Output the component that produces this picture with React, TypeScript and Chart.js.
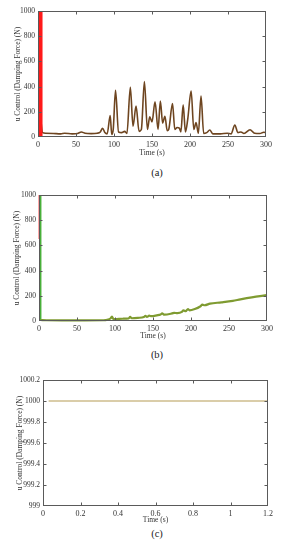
import React, { useEffect, useRef } from 'react';
import { Chart, registerables } from 'chart.js';
Chart.register(...registerables);

const FONT = '"Liberation Serif", "DejaVu Serif", serif';

// (a) damping force, brown
const aTime = [3, 3, 4, 6, 10, 20, 30, 35, 45, 52, 57, 62, 70, 78, 82, 85, 88, 91, 95, 97, 99, 102, 106, 110, 114, 117, 121.5, 125, 129, 133, 136, 140, 144, 147, 150, 154, 158, 161, 164, 167, 170, 172, 177, 180, 183, 186, 188, 191, 194, 197, 201.5, 205, 208, 211, 214.5, 218, 222, 226, 230, 240, 249, 254, 259, 263, 267, 271, 279, 285, 292, 297, 300];
const aForce = [1000, 200, 120, 35, 30, 28, 25, 30, 25, 28, 40, 30, 27, 30, 40, 70, 35, 25, 170, 20, 60, 370, 40, 35, 45, 28, 395, 85, 245, 45, 60, 440, 60, 160, 120, 280, 60, 285, 110, 165, 50, 60, 265, 60, 75, 70, 40, 255, 40, 140, 365, 60, 115, 30, 325, 28, 35, 55, 25, 25, 30, 25, 95, 35, 40, 28, 58, 30, 28, 38, 35];
const aRedTime = [3, 3];
const aRedForce = [0, 1000];

// (b) damping force, olive
const bTime = [2, 10, 30, 60, 85, 90, 94, 96, 98, 100, 110, 118, 120, 122, 130, 138, 140, 142, 145, 148, 155, 160, 162, 165, 175, 178, 182, 188, 190, 193, 196, 198, 205, 212, 215, 218, 225, 240, 255, 265, 280, 300];
const bForce = [8, 6, 5, 5, 6, 10, 20, 35, 15, 15, 18, 20, 32, 22, 25, 32, 40, 33, 42, 38, 45, 52, 60, 50, 60, 65, 62, 72, 85, 78, 95, 85, 95, 115, 130, 125, 138, 148, 160, 172, 188, 205];
const bGreenTime = [1.8, 1.8, 2];
const bGreenForce = [1000, 0, 8];
const bRedTime = [0.8, 0.8];
const bRedForce = [1000, 650];

// (c) damping force, constant
const cTime = [0.03, 1.2];
const cForce = [1000, 1000];

const abXTicks = [0, 50, 100, 150, 200, 250, 300];
const abYTicks = [0, 200, 400, 600, 800, 1000];
const cXTicks = [0, 0.2, 0.4, 0.6, 0.8, 1, 1.2];
const cYTicks = [999, 999.2, 999.4, 999.6, 999.8, 1000, 1000.2];

const Y_TITLE = 'u Control (Damping Force) (N)';
const X_TITLE = 'Time (s)';

const pts = (xs: number[], ys: number[]) => xs.map((x, i) => ({ x, y: ys[i] }));

const framePlugin = {
  id: 'frameTicks',
  afterDatasetsDraw(chart: any) {
    const { ctx, chartArea } = chart;
    const { left, right, top, bottom } = chartArea;
    const xs = chart.scales.x;
    const ys = chart.scales.y;
    ctx.save();
    ctx.strokeStyle = '#5a5a5a';
    ctx.lineWidth = 1;
    const L = Math.round(left) + 0.5, R = Math.round(right) - 0.5;
    const T = Math.round(top) + 0.5, B = Math.round(bottom) - 0.5;
    ctx.strokeRect(L, T, R - L, B - T);
    ctx.beginPath();
    xs.ticks.forEach((t: any, i: number) => {
      if (i === 0 || i === xs.ticks.length - 1) return;
      const p = Math.round(xs.getPixelForValue(t.value)) + 0.5;
      ctx.moveTo(p, B); ctx.lineTo(p, B - 3);
      ctx.moveTo(p, T); ctx.lineTo(p, T + 3);
    });
    ys.ticks.forEach((t: any, i: number) => {
      if (i === 0 || i === ys.ticks.length - 1) return;
      const p = Math.round(ys.getPixelForValue(t.value)) + 0.5;
      ctx.moveTo(L, p); ctx.lineTo(L + 3, p);
      ctx.moveTo(R, p); ctx.lineTo(R - 3, p);
    });
    ctx.stroke();
    ctx.restore();
  },
};

type PanelProps = {
  top: number; height: number;
  plotLeft: number; plotRight: number; plotTop: number; plotBottom: number;
  xTitleY: number; yTitleX: number;
  xMin: number; xMax: number; yMin: number; yMax: number;
  xTicks: number[]; yTicks: number[];
  datasets: any[];
};

function Panel(p: PanelProps) {
  const ref = useRef<HTMLCanvasElement>(null);
  useEffect(() => {
    const titleSize = 7.5;
    const lh = titleSize * 1.2;
    const xAxisH = p.top + p.height - p.plotBottom;
    const chart = new Chart(ref.current as HTMLCanvasElement, {
      type: 'line',
      data: { datasets: p.datasets },
      plugins: [framePlugin],
      options: {
        animation: false,
        responsive: false,
        devicePixelRatio: 1,
        layout: { padding: { left: 0, right: 286 - p.plotRight, top: p.plotTop - p.top, bottom: 0 } },
        plugins: { legend: { display: false }, tooltip: { enabled: false } },
        elements: { point: { radius: 0 } },
        scales: {
          x: {
            type: 'linear', min: p.xMin, max: p.xMax,
            grid: { display: false, drawTicks: false },
            border: { display: false },
            afterBuildTicks: (s: any) => { s.ticks = p.xTicks.map((v) => ({ value: v })); },
            afterFit: (s: any) => { s.height = xAxisH; },
            ticks: {
              padding: 3, maxRotation: 0, autoSkip: false,
              font: { family: FONT, size: 8 }, color: '#333',
              callback: (v: any) => String(Number(Number(v).toFixed(2))),
            },
            title: {
              display: true, text: X_TITLE, color: '#333',
              font: { family: FONT, size: titleSize },
              padding: { top: 0, bottom: p.top + p.height - p.xTitleY - lh / 2 },
            },
          },
          y: {
            type: 'linear', min: p.yMin, max: p.yMax,
            grid: { display: false, drawTicks: false },
            border: { display: false },
            afterBuildTicks: (s: any) => { s.ticks = p.yTicks.map((v) => ({ value: v })); },
            afterFit: (s: any) => { s.width = p.plotLeft; },
            ticks: {
              padding: 3, autoSkip: false,
              font: { family: FONT, size: 7.5 }, color: '#333',
              callback: (v: any) => String(Number(Number(v).toFixed(2))),
            },
            title: {
              display: true, text: Y_TITLE, color: '#333',
              font: { family: FONT, size: titleSize },
              padding: { top: p.yTitleX - lh / 2, bottom: 0 },
            },
          },
        },
      } as any,
    });
    return () => chart.destroy();
  }, []);
  return (
    <canvas
      ref={ref}
      width={286}
      height={p.height}
      style={{ position: 'absolute', left: 0, top: p.top, width: 286, height: p.height }}
    />
  );
}

const capStyle = (top: number): React.CSSProperties => ({
  position: 'absolute', left: 157, top, transform: 'translate(-50%, -50%)',
  fontFamily: FONT, fontSize: 10.5, color: '#222', whiteSpace: 'nowrap',
});

export default function App() {
  const dsA = [
    {
      data: pts(aRedTime, aRedForce), borderColor: '#ff1a1a', borderWidth: 4.5,
      pointRadius: 0, clip: 4,
    },
    {
      data: pts(aTime, aForce), borderColor: '#6e4520', borderWidth: 1.6,
      pointRadius: 0, cubicInterpolationMode: 'monotone', clip: 4,
      segment: { borderDash: (ctx: any) => (ctx.p0DataIndex === 0 ? [16, 5] : undefined) },
    },
  ];
  const dsB = [
    {
      data: pts(bTime, bForce), borderColor: '#7f9b31', borderWidth: 2.2,
      pointRadius: 0, cubicInterpolationMode: 'monotone', clip: 4,
    },
    {
      data: pts(bGreenTime, bGreenForce), borderColor: '#49b03a', borderWidth: 2,
      pointRadius: 0, clip: 4,
    },
    {
      data: pts(bRedTime, bRedForce), borderColor: '#ff2a2a', borderWidth: 2,
      pointRadius: 0, clip: 4,
    },
  ];
  const dsC = [
    {
      data: pts(cTime, cForce), borderColor: '#b59b55', borderWidth: 1.2,
      pointRadius: 0, clip: 4,
    },
  ];
  return (
    <div style={{ position: 'absolute', left: 0, top: 0, width: 286, height: 550, background: '#fff' }}>
      <Panel top={0} height={162} plotLeft={38} plotRight={266} plotTop={11} plotBottom={137}
        xTitleY={153} yTitleX={18} xMin={0} xMax={300} yMin={0} yMax={1000}
        xTicks={abXTicks} yTicks={abYTicks} datasets={dsA} />
      <div style={capStyle(172)}>(a)</div>
      <Panel top={182} height={162} plotLeft={39} plotRight={267} plotTop={195} plotBottom={321}
        xTitleY={336} yTitleX={17} xMin={0} xMax={300} yMin={0} yMax={1000}
        xTicks={abXTicks} yTicks={abYTicks} datasets={dsB} />
      <div style={capStyle(354)}>(b)</div>
      <Panel top={372} height={155} plotLeft={43} plotRight={268} plotTop={380} plotBottom={506}
        xTitleY={520} yTitleX={20} xMin={0} xMax={1.2} yMin={999} yMax={1000.2}
        xTicks={cXTicks} yTicks={cYTicks} datasets={dsC} />
      <div style={capStyle(533)}>(c)</div>
    </div>
  );
}
